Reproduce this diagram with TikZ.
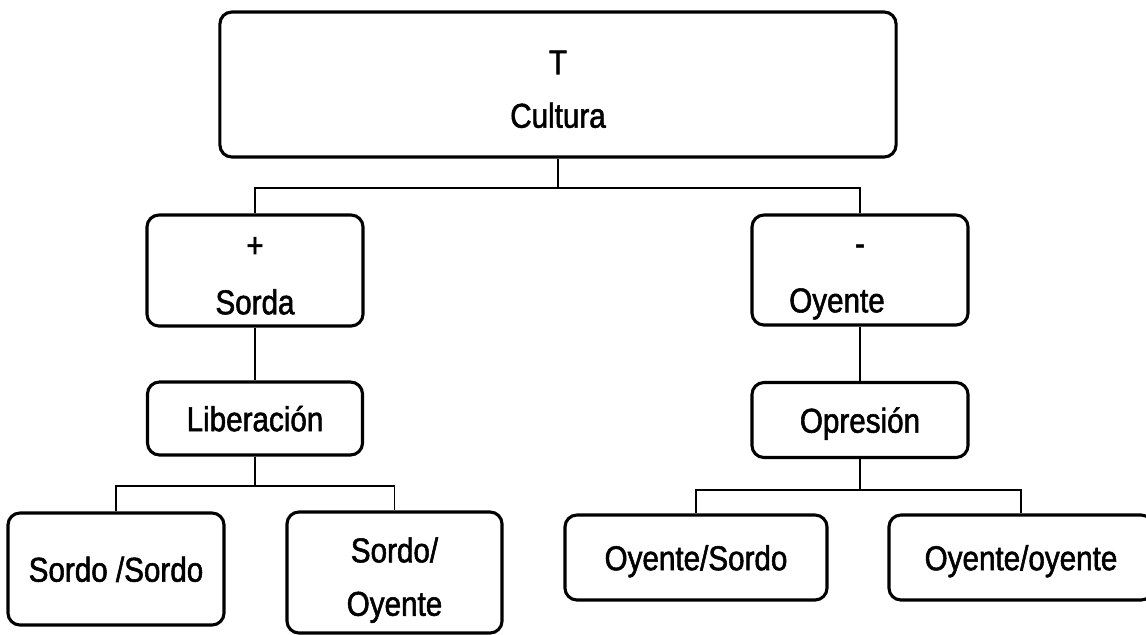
\documentclass[tikz,border=0pt]{standalone}
\usepackage{fontspec}
\setmainfont{Liberation Sans}[FakeStretch=0.86,FakeBold=1.6]
\usetikzlibrary{positioning,calc}

% puntales para fijar la altura de las lineas
\newcommand{\alto}[1]{\rule{0pt}{#1}}
\newcommand{\bajo}{\rule[-6pt]{0pt}{6pt}}
\newcommand{\linea}{\rule[-6pt]{0pt}{30pt}}

\begin{document}
\begin{tikzpicture}[x=0.025cm,y=-0.025cm]
    % Estilos
    \tikzset{
        caja/.style={draw,line width=2.2pt,rounded corners=0.3cm,align=center,
            inner sep=0pt,font=\fontsize{24.5}{38}\selectfont},
        rama/.style={line width=1.4pt}
    }

    % Marco de la figura
    \useasboundingbox (0,0) rectangle (1146,634);

    % Nivel superior
    \node[caja,minimum width=16.9cm,minimum height=3.625cm] (cultura) at (558,84.5)
        {\alto{29.4pt}T\\Cultura\bajo};

    % Segundo nivel
    \node[caja,minimum width=5.4cm,minimum height=2.775cm] (sorda) at (255,270.5)
        {\alto{27.5pt}+\\[2.7pt]Sorda\bajo};
    \node[caja,minimum width=5.4cm,minimum height=2.75cm] (oyente) at (860,270)
        {\alto{25.6pt}-\\[2.6pt]Oyente\rule{1.15cm}{0pt}\bajo};

    % Tercer nivel
    \node[caja,minimum width=5.375cm,minimum height=1.825cm] (liberacion) at (255,418.5) {\linea Liberación};
    \node[caja,minimum width=5.4cm,minimum height=1.875cm] (opresion) at (860,420) {\linea Opresión};

    % Cuarto nivel
    \node[caja,minimum width=5.4cm,minimum height=2.8cm] (sordosordo) at (116,569) {\linea Sordo /Sordo};
    \node[caja,minimum width=5.375cm,minimum height=3.025cm] (sordooyente) at (394.5,572.5)
        {\alto{29.5pt}Sordo/\\Oyente\bajo};
    \node[caja,minimum width=6.55cm,minimum height=2.125cm] (oyentesordo) at (696,557.5) {\linea Oyente/Sordo};
    \node[caja,minimum width=6.6cm,minimum height=2.125cm] (oyenteoyente) at (1021,557.5) {\linea Oyente/oyente};

    % Conexiones
    \coordinate (c1) at ($(cultura.south)+(0,29)$);
    \draw[rama] (cultura.south) -- (c1) -| (sorda.north);
    \draw[rama] (c1) -| (oyente.north);
    \draw[rama] (sorda.south) -- (liberacion.north);
    \draw[rama] (oyente.south) -- (opresion.north);

    \coordinate (c2) at ($(liberacion.south)+(0,29)$);
    \draw[rama] (liberacion.south) -- (c2) -| (sordosordo.north);
    \draw[rama] (c2) -| (sordooyente.north);

    \coordinate (c3) at ($(opresion.south)+(0,30.5)$);
    \draw[rama] (opresion.south) -- (c3) -| (oyentesordo.north);
    \draw[rama] (c3) -| (oyenteoyente.north);

\end{tikzpicture}
\end{document}
